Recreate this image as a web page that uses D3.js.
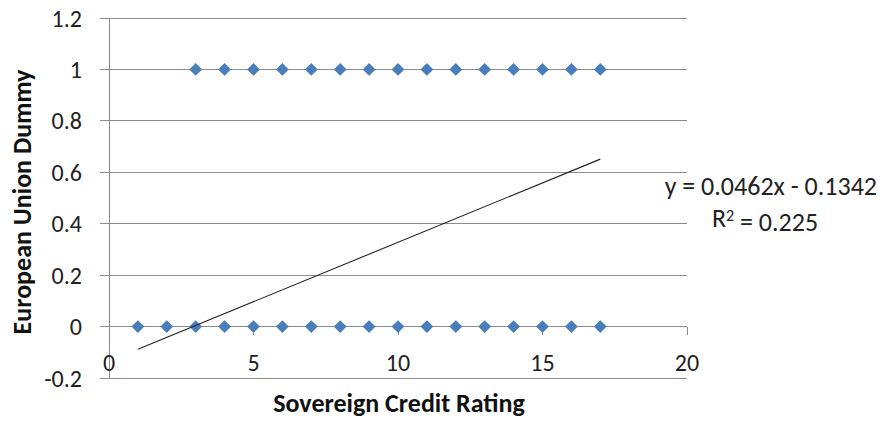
<!DOCTYPE html>
<html><head><meta charset="utf-8">
<script src="https://cdn.jsdelivr.net/npm/d3@7"></script>
<style>
body{margin:0;background:#fff;}
text{font-family:Carlito,Lato,"Open Sans",sans-serif;}
</style></head>
<body><svg id="c" width="882" height="424"></svg>
<script>
const euX = [3,4,5,6,7,8,9,10,11,12,13,14,15,16,17];
const euY = [1,1,1,1,1,1,1,1,1,1,1,1,1,1,1];
const nonX = [1,2,3,4,5,6,7,8,9,10,11,12,13,14,15,16,17];
const nonY = [0,0,0,0,0,0,0,0,0,0,0,0,0,0,0,0,0];
const xTicks = [0,5,10,15,20];
const yTicks = [-0.2,0,0.2,0.4,0.6,0.8,1,1.2];
const slope = 0.0462, intercept = -0.1342;
const trendRange = [1,17];
const eqLabel = "y = 0.0462x - 0.1342";
const r2Value = "0.225";

const svg = d3.select("#c");
const x = d3.scaleLinear().domain([0,20]).range([109,687]);
const y = d3.scaleLinear().domain([-0.2,1.2]).range([378,18]);
const grid = "#8c8c8c";
const tickFs = 24, txtFs = 26;

svg.append("g").selectAll("line").data(yTicks).join("line")
  .attr("x1",100).attr("x2",687)
  .attr("y1",d=>y(d)).attr("y2",d=>y(d))
  .attr("stroke",grid).attr("stroke-width",1).attr("shape-rendering","crispEdges");
svg.append("line").attr("x1",x(0)).attr("x2",x(0)).attr("y1",y(1.2)).attr("y2",y(-0.2))
  .attr("stroke",grid).attr("shape-rendering","crispEdges");
svg.append("g").selectAll("line").data(xTicks).join("line")
  .attr("x1",d=>x(d)).attr("x2",d=>x(d)).attr("y1",y(0)).attr("y2",y(0)+8)
  .attr("stroke",grid).attr("shape-rendering","crispEdges");
svg.append("g").selectAll("text").data(yTicks).join("text")
  .attr("x",82).attr("y",d=>y(d)).attr("dy","0.36em").attr("text-anchor","end")
  .attr("font-size",tickFs).attr("fill","#222")
  .text(d=>String(+d.toFixed(1)));
svg.append("g").selectAll("text").data(xTicks).join("text")
  .attr("x",d=>x(d)).attr("y",362).attr("dy","0.36em").attr("text-anchor","middle")
  .attr("font-size",tickFs).attr("fill","#222").text(d=>d);

const sym = d3.symbol().type(d3.symbolDiamond2).size(105);
const pts = nonX.map((v,i)=>[v,nonY[i]]).concat(euX.map((v,i)=>[v,euY[i]]));
svg.append("g").selectAll("path").data(pts).join("path")
  .attr("transform",d=>`translate(${x(d[0])},${y(d[1])})`)
  .attr("d",sym).attr("fill","#4a7ebb");

svg.append("line")
  .attr("x1",x(trendRange[0])).attr("y1",y(slope*trendRange[0]+intercept))
  .attr("x2",x(trendRange[1])).attr("y2",y(slope*trendRange[1]+intercept))
  .attr("stroke","#222").attr("stroke-width",1.1);

svg.append("text").attr("x",877).attr("y",186).attr("dy","0.36em").attr("text-anchor","end")
  .attr("font-size",txtFs).attr("fill","#222").text(eqLabel);
const r2 = svg.append("text").attr("x",765).attr("y",218).attr("dy","0.36em").attr("text-anchor","middle")
  .attr("font-size",txtFs).attr("fill","#222");
r2.append("tspan").text("R");
r2.append("tspan").attr("dy","-0.4em").attr("font-size",16).text("2");
r2.append("tspan").attr("dy","0.4em").text(" = " + r2Value);

svg.append("text").attr("x",399).attr("y",403).attr("dy","0.36em").attr("text-anchor","middle")
  .attr("font-size",txtFs).attr("font-weight","bold").attr("fill","#111").text("Sovereign Credit Rating");
svg.append("text").attr("transform","translate(22,202) rotate(-90)").attr("dy","0.36em")
  .attr("text-anchor","middle").attr("font-size",txtFs).attr("font-weight","bold").attr("fill","#111")
  .text("European Union Dummy");
</script></body></html>
